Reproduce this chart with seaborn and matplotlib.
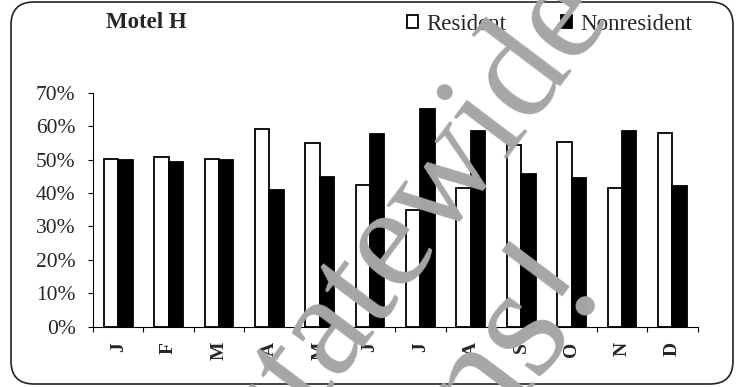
import matplotlib
matplotlib.use("Agg")
import matplotlib.pyplot as plt
import seaborn as sns
import pandas as pd
from matplotlib.patches import FancyBboxPatch
from matplotlib.ticker import PercentFormatter, MultipleLocator, FixedLocator

# Monthly share of motel guests (percent)
months = ["J", "F", "M", "A", "M", "J", "J", "A", "S", "O", "N", "D"]
resident = [50.2, 50.8, 50.2, 59.2, 55.1, 42.5, 35.0, 41.4, 54.4, 55.4, 41.4, 58.0]
nonresident = [49.8, 49.2, 49.8, 40.8, 44.9, 57.5, 65.0, 58.6, 45.6, 44.6, 58.6, 42.0]
series_names = ["Resident", "Nonresident"]
title = "Motel H"

sns.set_style("white")
plt.rcParams["font.family"] = ["Liberation Serif", "DejaVu Serif"]

# Month letters repeat, so the categorical axis uses a positional index
df = pd.DataFrame({
    "idx": list(range(len(months))) * 2,
    "share": resident + nonresident,
    "group": [series_names[0]] * len(months) + [series_names[1]] * len(months),
})

W, H = 741, 387
fig = plt.figure(figsize=(W / 100, H / 100), dpi=100)
ax = fig.add_axes([93 / W, 60.3 / H, (697.5 - 93) / W, 234 / H])

sns.barplot(
    data=df, x="idx", y="share", hue="group", hue_order=series_names,
    palette={"Resident": "white", "Nonresident": "black"},
    edgecolor="black", linewidth=1.3, width=0.57, gap=0,
    saturation=1, ax=ax, legend=True,
)

ax.set_ylim(0, 70)
ax.set_xlim(-0.5, len(months) - 0.5)
ax.yaxis.set_major_locator(MultipleLocator(10))
ax.yaxis.set_major_formatter(PercentFormatter(decimals=0))
ax.set_xticks(range(len(months)))
ax.set_xticklabels(months, rotation=90, fontweight="bold", fontsize=14)
ax.xaxis.set_minor_locator(FixedLocator([i - 0.5 for i in range(len(months) + 1)]))
ax.tick_params(axis="x", which="major", length=0, pad=11, bottom=True)
ax.tick_params(axis="x", which="minor", length=3.6, width=0.8, direction="out",
               color="black", bottom=True)
ax.tick_params(axis="y", length=3.6, width=0.8, direction="out", color="black",
               left=True, pad=9, labelsize=15.5)
ax.set_xlabel("")
ax.set_ylabel("")
for side in ["top", "right"]:
    ax.spines[side].set_visible(False)
for side in ["left", "bottom"]:
    ax.spines[side].set_color("black")
    ax.spines[side].set_linewidth(0.8)

handles, labels = ax.get_legend_handles_labels()
ax.get_legend().remove()
fig.legend(handles, labels, loc="upper right", bbox_to_anchor=(692 / W, 1 - 14 / H),
           ncol=2, frameon=False, fontsize=16.5, handlelength=0.48, handleheight=0.48,
           handletextpad=0.35, columnspacing=2.4, borderpad=0, borderaxespad=0)

fig.text(106 / W, 1 - 23 / H, title, ha="left", va="center",
         fontsize=16.5, fontweight="bold")

# Rounded frame around the whole chart
frame = FancyBboxPatch((0.11, 0.03), 7.22, 3.82,
                       boxstyle="round,pad=0,rounding_size=0.23",
                       transform=fig.dpi_scale_trans, fill=False,
                       linewidth=1.2, edgecolor="#222222")
fig.add_artist(frame)

# Diagonal draft watermark
wm = dict(rotation=53, rotation_mode="anchor", ha="left", va="baseline",
          color="#a6a6a6", zorder=10)
fig.text(276 / W, 1 - 456 / H, "statewide", fontsize=106, **wm)
fig.text(487 / W, 1 - 445 / H, "ns!", fontsize=118, **wm)

fig.savefig("out.png", dpi=100)
